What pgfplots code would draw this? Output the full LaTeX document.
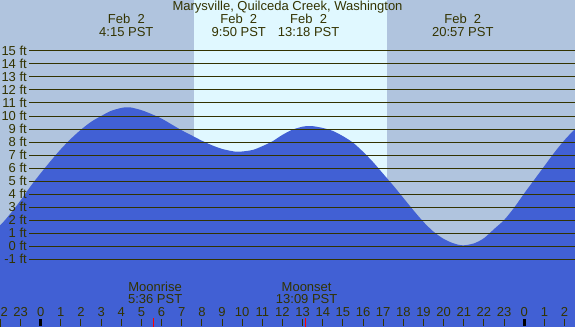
\documentclass[border=0pt]{standalone}
\usepackage{pgfplots}
\pgfplotsset{compat=1.18}
\usepackage{fontspec}
\setmainfont{Liberation Sans}
\definecolor{night}{RGB}{176,196,222}
\definecolor{day}{RGB}{224,248,255}
\definecolor{tidecol}{RGB}{65,96,212}
\definecolor{ink}{RGB}{51,51,0}
\pgfplotstableread{
h ft
-3.0 -7
-3.0 0.8
-2.5 1.2
-2.0 1.62
-1.5 2.5
-1.0 3.5
-0.5 4.6
0.0 5.6
0.5 6.55
1.0 7.45
1.5 8.25
2.0 8.95
2.5 9.55
3.0 10.0
3.5 10.4
4.0 10.62
4.25 10.67
4.5 10.65
5.0 10.45
5.5 10.15
6.0 9.8
6.5 9.35
7.0 8.9
7.5 8.5
8.0 8.1
8.5 7.75
9.0 7.47
9.5 7.3
9.83 7.25
10.5 7.38
11.0 7.68
11.5 8.05
12.0 8.55
12.5 8.95
13.0 9.18
13.3 9.23
13.5 9.22
14.0 9.08
14.5 8.85
15.0 8.45
15.5 7.95
16.0 7.25
16.5 6.45
17.0 5.55
17.5 4.65
18.0 3.7
18.5 2.75
19.0 1.85
19.5 1.1
20.0 0.55
20.5 0.2
20.95 0.05
21.5 0.2
22.0 0.6
22.5 1.3
23.0 2.0
23.5 2.95
24.0 4.05
24.5 5.1
25.0 6.15
25.5 7.2
26.0 8.15
26.52 9.0
27.0 9.75
27.5 10.3
27.5 -7
}\tidetable
\begin{document}
\begin{tikzpicture}[font=\fontsize{13}{15}\selectfont, every node/.append style={inner sep=0pt}]
\begin{axis}[
 at={(0,0)}, anchor=south west,
 scale only axis, width=575pt, height=326pt,
 xmin=-2.02, xmax=26.52, ymin=-6.1538, ymax=18.923,
 axis on top,
 axis line style={draw=none},
 axis background/.style={fill=night},
 ytick=\empty,
 xtick={-1,...,26},
 xticklabels={23,0,1,2,3,4,5,6,7,8,9,10,11,12,13,14,15,16,17,18,19,20,21,22,23,0,1,2},
 xtick pos=left, tick align=inside, major tick length=7pt,
 major tick style={ink, line width=1pt},
 xticklabel style={anchor=base, yshift=10pt, text=ink, inner sep=0pt},
 extra x ticks={0,24}, extra x tick labels={},
 extra x tick style={major tick style={black, line width=3pt}},
]
\addplot[fill=day, draw=none] coordinates {(7.608,-7) (17.186,-7) (17.186,20) (7.608,20)} -- cycle;
\addplot[fill=tidecol, draw=none, smooth] table[x=h, y=ft] {\tidetable} -- cycle;
\pgfplotsinvokeforeach{-1,...,15}{
 \addplot[ink, line width=1pt] coordinates {(-0.566,#1) (26.52,#1)};
 \node[anchor=east, text=ink] at (axis cs:-0.68,#1) {#1 ft};
}
\addplot[ink, line width=1pt] coordinates {(-2,-6.2) (-2,-5.615)};
\addplot[red, line width=1pt] coordinates {(5.6,-6.2) (5.6,-5.5)};
\addplot[red, line width=1pt] coordinates {(13.15,-6.2) (13.15,-5.5)};
\node[anchor=base west, text=ink] at (axis cs:-2.0,-5.385) {\llap{2}2};
\node[anchor=base, text=ink] at (axis cs:12.25,18.08) {Marysville, Quilceda Creek, Washington};
\node[anchor=base, text=ink] at (axis cs:4.25,17.11) {Feb~~2};
\node[anchor=base, text=ink] at (axis cs:4.25,16.15) {4:15 PST};
\node[anchor=base, text=ink] at (axis cs:9.833,17.11) {Feb~~2};
\node[anchor=base, text=ink] at (axis cs:9.833,16.15) {9:50 PST};
\node[anchor=base, text=ink] at (axis cs:13.3,17.11) {Feb~~2};
\node[anchor=base, text=ink] at (axis cs:13.3,16.15) {13:18 PST};
\node[anchor=base, text=ink] at (axis cs:20.95,17.11) {Feb~~2};
\node[anchor=base, text=ink] at (axis cs:20.95,16.15) {20:57 PST};
\node[anchor=base, text=ink] at (axis cs:5.68,-3.515) {Moonrise};
\node[anchor=base, text=ink] at (axis cs:5.68,-4.41) {5:36 PST};
\node[anchor=base, text=ink] at (axis cs:13.2,-3.515) {Moonset};
\node[anchor=base, text=ink] at (axis cs:13.2,-4.41) {13:09 PST};
\end{axis}
\end{tikzpicture}
\end{document}
